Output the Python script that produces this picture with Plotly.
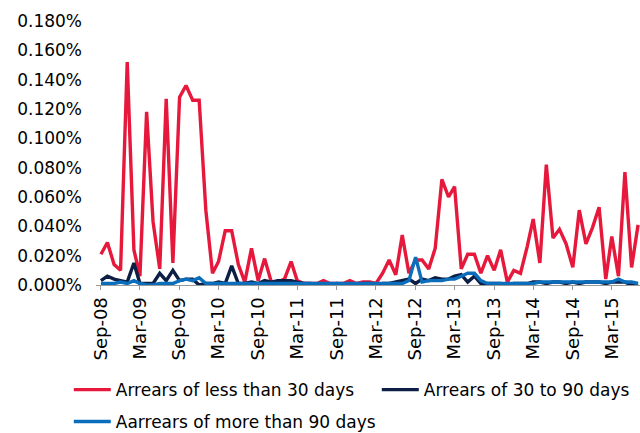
import plotly.graph_objects as go
import pandas as pd

months = pd.date_range("2008-09-01", periods=83, freq="MS")

# values in percent
less_30 = [0.021, 0.029, 0.014, 0.010, 0.152, 0.024, 0.006, 0.118, 0.043, 0.011,
           0.127, 0.015, 0.128, 0.136, 0.126, 0.126, 0.051, 0.008, 0.016, 0.037,
           0.037, 0.014, 0.002, 0.025, 0.003, 0.018, 0.002, 0.002, 0.004, 0.016,
           0.003, 0.001, 0.001, 0.001, 0.003, 0.001, 0.001, 0.001, 0.003, 0.001,
           0.002, 0.002, 0.001, 0.008, 0.017, 0.007, 0.034, 0.008, 0.017, 0.017,
           0.011, 0.025, 0.072, 0.060, 0.067, 0.011, 0.021, 0.021, 0.008, 0.020,
           0.010, 0.024, 0.002, 0.010, 0.008, 0.026, 0.045, 0.015, 0.082, 0.032,
           0.038, 0.028, 0.012, 0.051, 0.028, 0.039, 0.053, 0.004, 0.033, 0.006,
           0.077, 0.012, 0.041]

d30_90 = [0.003, 0.006, 0.004, 0.003, 0.002, 0.015, 0.001, 0.001, 0.001, 0.008,
          0.003, 0.010, 0.003, 0.004, 0.004, 0.000, 0.001, 0.001, 0.002, 0.001,
          0.013, 0.001, 0.001, 0.002, 0.001, 0.003, 0.002, 0.003, 0.003, 0.003,
          0.002, 0.001, 0.001, 0.000, 0.001, 0.000, 0.001, 0.000, 0.001, 0.000,
          0.001, 0.001, 0.000, 0.001, 0.001, 0.002, 0.003, 0.004, 0.001, 0.004,
          0.003, 0.005, 0.004, 0.004, 0.006, 0.007, 0.002, 0.006, 0.001, 0.001,
          0.001, 0.001, 0.000, 0.001, 0.001, 0.001, 0.002, 0.002, 0.001, 0.002,
          0.002, 0.001, 0.002, 0.001, 0.002, 0.002, 0.002, 0.001, 0.002, 0.002,
          0.002, 0.000, 0.001]

over_90 = [0.001, 0.001, 0.001, 0.002, 0.001, 0.003, 0.001, 0.000, 0.000, 0.001,
           0.001, 0.001, 0.003, 0.004, 0.003, 0.005, 0.001, 0.001, 0.001, 0.001,
           0.001, 0.001, 0.001, 0.001, 0.001, 0.001, 0.001, 0.001, 0.001, 0.001,
           0.001, 0.001, 0.001, 0.001, 0.001, 0.001, 0.001, 0.001, 0.001, 0.001,
           0.001, 0.001, 0.001, 0.001, 0.001, 0.001, 0.001, 0.003, 0.019, 0.002,
           0.003, 0.003, 0.003, 0.004, 0.004, 0.006, 0.008, 0.008, 0.003, 0.001,
           0.001, 0.001, 0.001, 0.001, 0.001, 0.001, 0.001, 0.002, 0.002, 0.002,
           0.002, 0.002, 0.002, 0.002, 0.002, 0.002, 0.002, 0.002, 0.002, 0.004,
           0.002, 0.002, 0.001]

series_names = ["Arrears of less than 30 days", "Arrears of 30 to 90 days",
                "Aarrears of more than 90 days"]
colors = ["#E6193C", "#0E1F45", "#0A6EBD"]
legend_ids = ["legend", "legend", "legend2"]

fig = go.Figure()
for name, vals, col, lg in zip(series_names, [less_30, d30_90, over_90], colors, legend_ids):
    fig.add_trace(go.Scatter(x=months, y=vals, mode="lines", name=name,
                             legend=lg, line=dict(color=col, width=3.4)))

font = "DejaVu Sans"
leg_common = dict(orientation="h", xref="paper", yref="paper",
                  xanchor="left", yanchor="middle",
                  font=dict(family=font, size=17), itemwidth=37,
                  bgcolor="rgba(0,0,0,0)", borderwidth=0)
fig.update_layout(
    width=640, height=433,
    margin=dict(l=96, r=0, t=21, b=148, autoexpand=False),
    paper_bgcolor="white", plot_bgcolor="white",
    font=dict(family=font, size=17, color="black"),
    showlegend=True,
    legend=dict(x=-0.05, y=-0.398, entrywidth=256, entrywidthmode="pixels", **leg_common),
    legend2=dict(x=-0.05, y=-0.519, **leg_common),
    xaxis=dict(range=["2008-08-09", "2015-07-10"], type="date",
               tick0="2008-09-01", dtick="M6", tickformat="%b-%y",
               tickangle=-90, showgrid=False, showline=True,
               linecolor="#999999", linewidth=1, ticks="outside",
               ticklen=4, tickcolor="#999999",
               tickfont=dict(family=font, size=18), zeroline=False),
    yaxis=dict(range=[0, 0.18], dtick=0.02, tickformat=".3f", ticksuffix="%",
               showgrid=False, showline=False, zeroline=False,
               tickfont=dict(family=font, size=17), ticks="",
               ticklabelstandoff=13),
)

fig.write_html("out.html", config={"displayModeBar": False},
               post_script="document.body.style.margin='0';document.body.style.padding='0';")
